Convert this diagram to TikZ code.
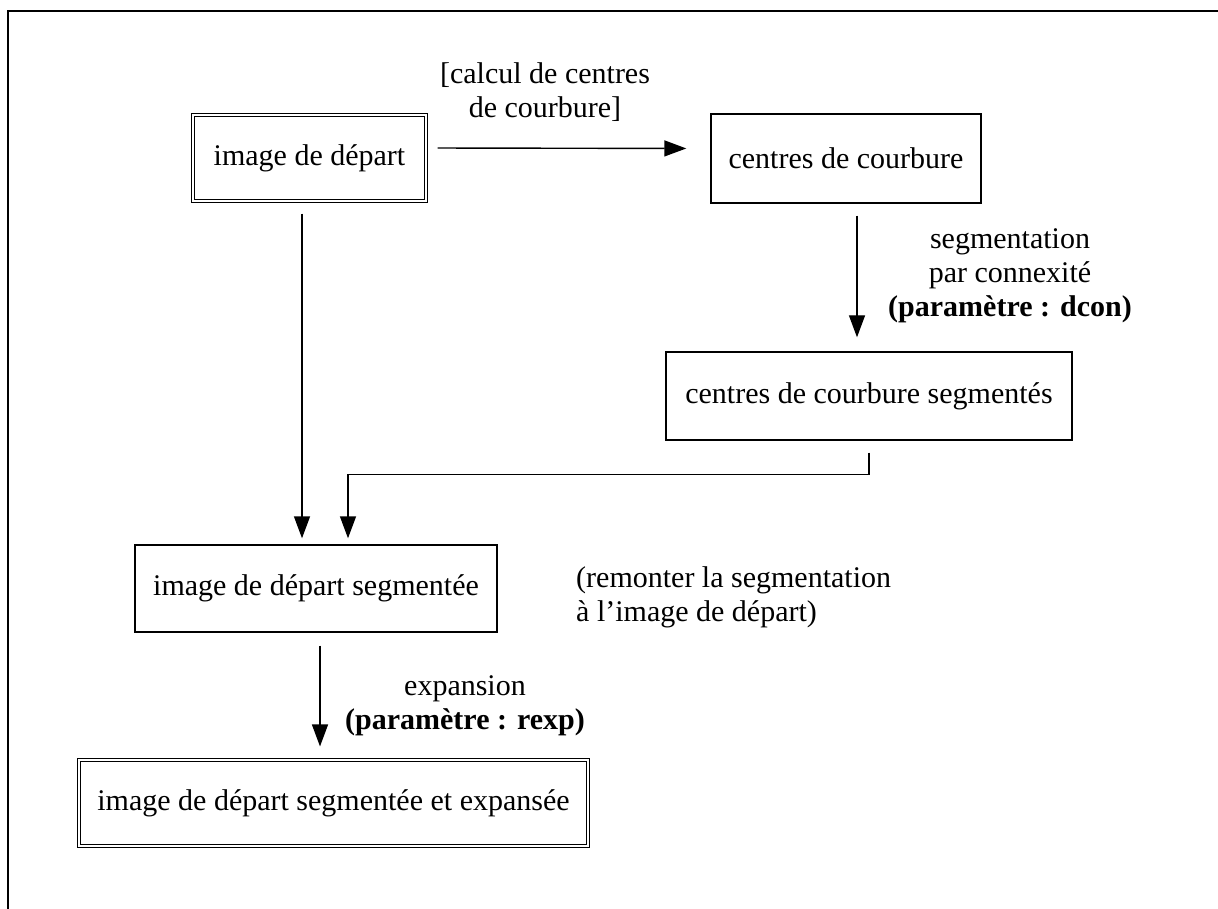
\documentclass[tikz,border=0pt]{standalone}
\usepackage{fontspec}
\setmainfont{Liberation Serif}
\usetikzlibrary{arrows.meta,calc}
\begin{document}
\begin{tikzpicture}[x=1pt,y=-1pt,
  every node/.style={font=\fontsize{30}{34}\selectfont, inner sep=0pt},
  box/.style={draw, line width=1.4pt, rectangle},
  dbox/.style={draw, rectangle, double, double distance=2.4pt, line width=1.1pt},
  lbl/.style={align=center},
  arr/.style={-{Triangle[length=22pt,width=16pt]}, line width=1.4pt},
  frame/.style={line width=2.8pt}]
\useasboundingbox (0,0) rectangle (1218,909);
% outer frame (partly visible)
\draw[frame] (1230,11) -- (8,11) -- (8,925);

% boxes
\node[dbox, minimum width=233pt, minimum height=86pt] (b1) at (309.5,158) {image de départ};
\node[box, minimum width=270pt, minimum height=89pt] (b2) at (846,158.5) {centres de courbure};
\node[box, minimum width=406pt, minimum height=88pt] (b3) at (869,396) {centres de courbure segmentés};
\node[box, minimum width=362pt, minimum height=87pt] (b4) at (316,588.5) {image de départ segmentée};
\node[dbox, minimum width=509pt, minimum height=86pt] (b5) at (333.5,803) {image de départ segmentée et expansée};

% helper coordinates
\coordinate (xa) at (302,0);
\coordinate (xb) at (348,0);
\coordinate (xc) at (857,0);
\coordinate (xd) at (320,0);

% connectors
\draw[arr, shorten <=11pt, shorten >=24pt] ([yshift=10pt]b1.east) -- ([yshift=10pt]b2.west);
\draw[arr, shorten <=12pt, shorten >=14pt] (b2.south -| xc) -- (b3.north -| xc);
\draw[arr, shorten <=12pt, shorten >=6pt] (b1.south -| xa) -- (b4.north -| xa);
\draw[arr, shorten >=6pt] ([yshift=-12pt]b3.south) |- ($(b3.south -| xb)+(0,34)$) -- (b4.north -| xb);
\draw[arr, shorten <=13pt, shorten >=13pt] (b4.south -| xd) -- (b5.north -| xd);

% labels
\node[lbl] (l1) at (545,92) {[calcul de centres\\de courbure]};
\node[lbl] (l2) at (1010,276) {segmentation\\par connexité\\\textbf{(paramètre : dcon)}};
\node[align=left, anchor=west] (l3) at (576,597) {(remonter la segmentation\\à l’image de départ)};
\node[lbl] (l4) at (465,706) {expansion\\\textbf{(paramètre : rexp)}};
\end{tikzpicture}
\end{document}
